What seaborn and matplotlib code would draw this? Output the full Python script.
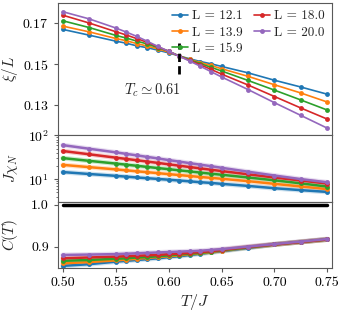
import numpy as np
import pandas as pd
import seaborn as sns
import matplotlib
import matplotlib.pyplot as plt
matplotlib.use('Agg')

T = [0.50, 0.525, 0.55, 0.56, 0.57, 0.58, 0.59, 0.60, 0.61, 0.62,
     0.63, 0.64, 0.65, 0.675, 0.70, 0.725, 0.75]
sizes = ["12.1", "13.9", "15.9", "18.0", "20.0"]

xi_L = {
    "12.1": [0.1669, 0.1641, 0.1612, 0.1602, 0.1589, 0.1580, 0.1568, 0.1555, 0.1540,
             0.1526, 0.1513, 0.1502, 0.1489, 0.1458, 0.1422, 0.1389, 0.1354],
    "13.9": [0.1685, 0.1657, 0.1625, 0.1614, 0.1600, 0.1588, 0.1574, 0.1559, 0.1540,
             0.1523, 0.1508, 0.1494, 0.1478, 0.1441, 0.1400, 0.1360, 0.1316],
    "15.9": [0.1711, 0.1678, 0.1640, 0.1627, 0.1612, 0.1598, 0.1580, 0.1563, 0.1540,
             0.1521, 0.1503, 0.1485, 0.1467, 0.1421, 0.1374, 0.1326, 0.1277],
    "18.0": [0.1738, 0.1700, 0.1658, 0.1642, 0.1624, 0.1606, 0.1584, 0.1563, 0.1539,
             0.1518, 0.1497, 0.1475, 0.1452, 0.1399, 0.1343, 0.1287, 0.1233],
    "20.0": [0.1755, 0.1720, 0.1676, 0.1656, 0.1635, 0.1611, 0.1586, 0.1563, 0.1539,
             0.1515, 0.1490, 0.1464, 0.1438, 0.1377, 0.1313, 0.1251, 0.1189],
}

chi = {
    "12.1": [14.5, 13.1, 11.9, 11.4, 10.9, 10.5, 10.1, 9.7, 9.3, 8.9,
             8.5, 8.2, 7.8, 7.0, 6.2, 5.6, 5.1],
    "13.9": [21.2, 18.8, 16.7, 15.9, 15.1, 14.4, 13.7, 13.0, 12.4, 11.8,
             11.2, 10.7, 10.2, 9.0, 7.8, 6.8, 5.9],
    "15.9": [30.3, 26.2, 22.7, 21.4, 20.2, 19.0, 17.9, 16.9, 15.9, 15.0,
             14.1, 13.3, 12.6, 10.9, 9.4, 8.0, 6.75],
    "18.0": [44.0, 37.0, 31.0, 29.0, 27.0, 25.2, 23.5, 21.8, 20.3, 18.9,
             17.6, 16.4, 15.3, 12.9, 10.9, 9.3, 7.9],
    "20.0": [60.0, 49.5, 41.0, 37.8, 34.9, 32.2, 29.7, 27.3, 25.2, 23.2,
             21.4, 19.8, 18.2, 14.8, 12.1, 10.0, 8.45],
}

C_T = {
    "12.1": [0.854, 0.858, 0.864, 0.866, 0.868, 0.870, 0.872, 0.875, 0.877, 0.880,
             0.883, 0.886, 0.889, 0.897, 0.905, 0.911, 0.917],
    "13.9": [0.860, 0.863, 0.867, 0.869, 0.871, 0.873, 0.875, 0.877, 0.879, 0.882,
             0.884, 0.887, 0.890, 0.898, 0.905, 0.911, 0.917],
    "15.9": [0.866, 0.868, 0.871, 0.872, 0.874, 0.875, 0.877, 0.879, 0.881, 0.883,
             0.885, 0.888, 0.891, 0.898, 0.905, 0.911, 0.917],
    "18.0": [0.872, 0.874, 0.876, 0.877, 0.878, 0.879, 0.880, 0.882, 0.883, 0.885,
             0.887, 0.889, 0.892, 0.899, 0.905, 0.911, 0.917],
    "20.0": [0.880, 0.881, 0.882, 0.883, 0.884, 0.885, 0.886, 0.887, 0.888, 0.889,
             0.890, 0.892, 0.894, 0.900, 0.906, 0.912, 0.918],
}
C_ref = [1.0] * len(T)

Tc = 0.61
Tc_span = [0.1451, 0.1602]

rows = []
for L in sizes:
    for i, t in enumerate(T):
        rows.append({"T": t, "L": f"L = {L}", "xi": xi_L[L][i],
                     "chi": chi[L][i], "C": C_T[L][i]})
df = pd.DataFrame(rows)
order = [f"L = {L}" for L in sizes]

sns.set_style("white")
plt.rcParams.update({
    "font.family": "serif",
    "font.serif": ["cmr10"],
    "mathtext.fontset": "cm",
    "axes.formatter.use_mathtext": True,
    "font.size": 10,
    "axes.edgecolor": "0.35",
    "axes.labelpad": 2,
    "xtick.bottom": True,
    "ytick.left": True,
    "xtick.major.size": 3,
    "ytick.major.size": 3,
    "ytick.minor.size": 1.5,
    "xtick.color": "0.35",
    "ytick.color": "0.35",
    "xtick.labelcolor": "black",
    "ytick.labelcolor": "black",
})

fig, axes = plt.subplots(3, 1, figsize=(3.41, 3.16), dpi=100, sharex=True,
                         gridspec_kw={"height_ratios": [2, 1, 1], "hspace": 0})
fig.subplots_adjust(left=0.170, right=0.974, top=0.991, bottom=0.152)
ax1, ax2, ax3 = axes
pal = sns.color_palette("tab10", 5)

sns.lineplot(data=df, x="T", y="xi", hue="L", hue_order=order, palette=pal,
             marker="o", markersize=3.5, markeredgewidth=0, lw=1.2, ax=ax1)
sns.move_legend(ax1, "upper right", ncol=2, frameon=False, title=None,
                handlelength=1.2, handletextpad=0.35, columnspacing=0.8,
                labelspacing=0.3, borderaxespad=0.15, fontsize=9.5)
ax1.plot([Tc, Tc], Tc_span, color="black", ls="--", lw=2, dashes=(3, 1.5))
ax1.text(0.585, 0.1373, r"$T_c \simeq 0.61$", ha="center", va="center", fontsize=10.5)
ax1.set_ylim(0.1154, 0.1798)
ax1.set_yticks([0.13, 0.15, 0.17])
ax1.set_ylabel(r"$\xi/L$", fontsize=11)

for L in order:
    sub = df[df["L"] == L]
    c = pal[order.index(L)]
    ax2.plot(sub["T"], sub["chi"], color=c, lw=3.5, alpha=0.22)
    ax3.plot(sub["T"], sub["C"], color=c, lw=3.5, alpha=0.22)
sns.lineplot(data=df, x="T", y="chi", hue="L", hue_order=order, palette=pal,
             marker="o", markersize=3.5, markeredgewidth=0, lw=1.8, ax=ax2,
             legend=False)
ax2.set_yscale("log")
ax2.set_ylim(3.05, 100)
ax2.set_yticks([10, 100])
ax2.set_ylabel(r"$J\chi_N$", fontsize=11)

sns.lineplot(data=df, x="T", y="C", hue="L", hue_order=order, palette=pal,
             marker="o", markersize=3.5, markeredgewidth=0, lw=1.8, ax=ax3,
             legend=False)
sns.lineplot(x=T, y=C_ref, color="black", lw=2.5, ax=ax3)
ax3.set_ylim(0.849, 1.007)
ax3.set_yticks([0.9, 1.0])
ax3.set_ylabel(r"$C(T)$", fontsize=11)
ax3.set_xlabel(r"$T/J$", fontsize=11.5)
ax3.set_xlim(0.4955, 0.7545)
ax3.set_xticks([0.50, 0.55, 0.60, 0.65, 0.70, 0.75])
ax3.xaxis.set_major_formatter(matplotlib.ticker.FormatStrFormatter("%.2f"))
ax3.yaxis.set_major_formatter(matplotlib.ticker.FormatStrFormatter("%.1f"))

for ax in (ax1, ax2):
    ax.tick_params(axis="x", bottom=False)
    ax.set_xlabel("")
fig.align_ylabels(axes)

fig.savefig("out.png", dpi=100)
plt.close()
